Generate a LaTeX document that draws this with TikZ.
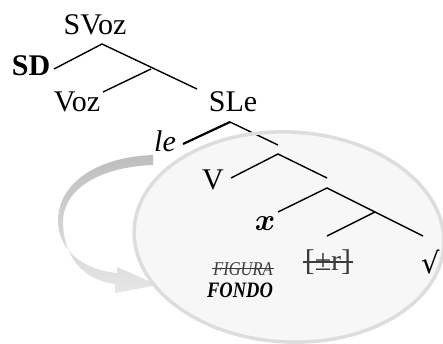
\documentclass[tikz,border=0pt]{standalone}
\usepackage{amsmath,amssymb,graphicx}
\usepackage{fontspec}
\setmainfont{Liberation Serif}
\newfontfamily\condfont[FakeStretch=0.84]{Liberation Serif}
\newfontfamily\symfont{DejaVu Serif}
\definecolor{ellfill}{HTML}{F7F7F7}
\definecolor{ellline}{HTML}{DDDDDD}
\definecolor{arrtop}{HTML}{BEBEBE}
\definecolor{arrbot}{HTML}{E6E6E6}
\definecolor{greytxt}{HTML}{3C3C3C}
\tikzset{
  lbl/.style={anchor=base, inner sep=0pt, font=\fontsize{30}{33}\selectfont},
  branch/.style={line width=1.4pt, black},
  thickbranch/.style={line width=2.2pt, black},
  strike/.style={line width=1pt},
}
\begin{document}
\begin{tikzpicture}[x=1pt,y=-1pt]
\useasboundingbox (0,0) rectangle (443,344);
% curved arrow
\shade[top color=arrtop, bottom color=arrbot]
  (153,155) .. controls (95,157) and (57,185) .. (58,222)
  .. controls (59,252) and (85,270) .. (117,273)
  -- (117,267) -- (158,285) -- (115,293) -- (115,284)
  .. controls (82,280) and (63,255) .. (63,222)
  .. controls (63,190) and (98,167) .. (153,165) -- cycle;
% ellipse fill
\fill[ellfill, rotate around={-3:(289,237)}] (289,237) ellipse [x radius=155, y radius=105];
% coordinates
\coordinate (a1) at (102,44);
\coordinate (sdE) at (54,69);
\coordinate (m1) at (151,69);
\coordinate (sleE) at (197,89);
\coordinate (vozE) at (103,92);
\coordinate (a2) at (230,122);
\coordinate (leE) at (183,144);
\coordinate (a2E) at (278,145);
\coordinate (a3) at (278,154);
\coordinate (vE) at (231,178);
\coordinate (a3E) at (327,178);
\coordinate (a4) at (327,188);
\coordinate (xE) at (278,212);
\coordinate (a4E) at (423,236);
\coordinate (m4) at (375,212);
\coordinate (rE) at (327,236);
% labels
\node[lbl] (svoz) at (95,35) {SVoz};
\node[lbl, font=\fontsize{30}{33}\selectfont\bfseries] (sd) at (31,76) {SD};
\node[lbl] (voz) at (77,112) {Voz};
\node[lbl] (sle) at (233,112) {SLe};
\node[lbl, font=\fontsize{30}{33}\selectfont\itshape] (le) at (165,152) {le};
\node[lbl] (v) at (213,190) {V};
\node[lbl] (x) at (265,230) {\scalebox{1.25}{$\boldsymbol{x}$}};
\node[lbl, text=greytxt] (r) at (328,270) {[±r]};
\node[lbl, anchor=base west, font=\fontsize{29}{32}\selectfont\symfont] (root) at (421,273) {√};
\node[lbl, text=greytxt, font=\fontsize{19.5}{22}\selectfont\condfont\itshape] (fig) at (243,275) {FIGURA};
\node[lbl, text=black, font=\fontsize{22}{25}\selectfont\condfont\bfseries\itshape] (fondo) at (240,297) {FONDO};
% strikes
\draw[strike, greytxt] ([xshift=-1pt,yshift=6.5pt]fig.base west) -- ([xshift=1pt,yshift=6.5pt]fig.base east);
\draw[line width=2pt, greytxt] ([xshift=-2pt,yshift=8.5pt]r.base west) -- ([xshift=2pt,yshift=8.5pt]r.base east);
% tree
\draw[branch] (sdE) -- (a1) -- (sleE);
\draw[branch] (m1) -- (vozE);
\draw[thickbranch] (leE) -- (a2);
\draw[branch] (a2) -- (a2E);
\draw[branch] (vE) -- (a3) -- (a3E);
\draw[branch] (xE) -- (a4) -- (a4E);
\draw[branch] (m4) -- (rE);
% ellipse border
\draw[ellline, line width=3.5pt, rotate around={-3:(289,237)}] (289,237) ellipse [x radius=155, y radius=105];
\end{tikzpicture}
\end{document}
